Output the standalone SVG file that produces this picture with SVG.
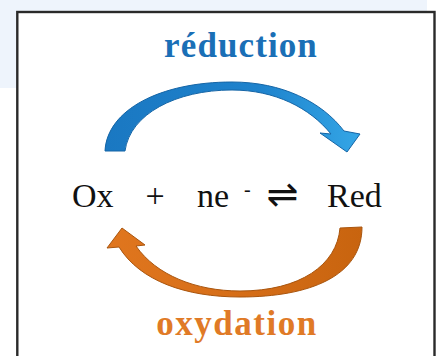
<svg xmlns="http://www.w3.org/2000/svg" width="440" height="356" viewBox="0 0 440 356">
<defs>
<linearGradient id="gb" x1="0" y1="0" x2="1" y2="0">
<stop offset="0" stop-color="#1a78c2"/>
<stop offset="0.6" stop-color="#1e82cc"/>
<stop offset="1" stop-color="#34a6e6"/>
</linearGradient>
<linearGradient id="go" x1="0" y1="0" x2="1" y2="0">
<stop offset="0" stop-color="#e0761e"/>
<stop offset="0.5" stop-color="#d66e18"/>
<stop offset="1" stop-color="#c8640f"/>
</linearGradient>
<style>
.serif{font-family:"Liberation Serif","Times New Roman",Tinos,"Noto Serif","DejaVu Serif",FreeSerif,Times,serif}
</style>
</defs>
<rect x="0" y="0" width="427" height="88" fill="#eef4fc"/>
<rect x="17.3" y="12" width="417.2" height="360" fill="#ffffff" stroke="#2a2a2a" stroke-width="2.4"/>
<g id="connectors">
<path id="arrow-reduction" d="M105 151 C107 110 160 82 232 82 C282 82 322 102 344 131 L360 134 L347 152 L320 133 L331 134 C310 108 275 90 232 90 C176 90 130 114 125 151 Z" fill="url(#gb)" stroke="#1565a6" stroke-width="1"/>
<path id="arrow-oxydation" d="M340 228 L362 227 C362 276 310 297 240 297 C186 297 140 281 119 247 L107 248 L122 228 L145 245 L136 246 C156 275 196 291 240 291 C300 291 337 265 340 228 Z" fill="url(#go)" stroke="#a9550e" stroke-width="1"/>
</g>
<g id="node-reduction" class="serif" font-weight="bold" font-size="35" text-anchor="middle">
<text x="241" y="57" fill="#1a6fb6" letter-spacing="1.1">réduction</text>
</g>
<g id="node-equation" class="serif" font-size="34" fill="#111">
<text x="72" y="207">Ox</text>
<text x="155" y="207" text-anchor="middle">+</text>
<text x="197" y="207">ne</text>
<text x="244" y="196" font-size="20">-</text>
<text x="282.5" y="207" text-anchor="middle" font-family="DejaVu Sans, sans-serif" font-size="38">⇌</text>
<text x="327" y="207">Red</text>
</g>
<g id="node-oxydation" class="serif" font-weight="bold" font-size="35" text-anchor="middle">
<text x="237" y="335" fill="#e07a26" letter-spacing="1.5">oxydation</text>
</g>
</svg>
